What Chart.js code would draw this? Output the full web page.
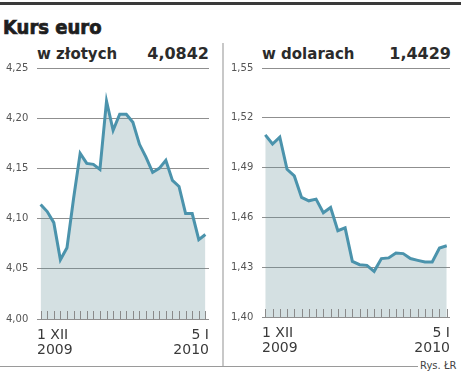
<!DOCTYPE html>
<html><head><meta charset="utf-8">
<script src="https://cdn.jsdelivr.net/npm/chart.js@4"></script>
<style>
html,body{margin:0;padding:0;background:#fff;}
body{width:461px;height:373px;position:relative;overflow:hidden;font-family:"DejaVu Sans",sans-serif;}
.abs{position:absolute;white-space:nowrap;}
.sub{font-weight:bold;font-size:15px;line-height:15px;color:#2b2b2b;}
.val{font-weight:bold;font-size:16px;line-height:16px;color:#2b2b2b;}
</style></head><body>
<div class="abs" style="left:0;top:2px;width:461px;height:3px;background:#3a3a3a"></div>
<div class="abs" style="left:3px;top:17px;font-family:'DejaVu Sans Condensed','DejaVu Sans';font-stretch:condensed;font-weight:bold;font-size:20px;line-height:20px;color:#1e1e1e;-webkit-text-stroke:0.7px #1e1e1e">Kurs euro</div>
<div class="abs sub" style="left:37px;top:47px">w złotych</div>
<div class="abs val" style="right:252px;top:46px">4,0842</div>
<div class="abs sub" style="left:262px;top:47px">w dolarach</div>
<div class="abs val" style="right:10px;top:46px">1,4429</div>
<div class="abs" style="left:222px;top:43px;width:2px;height:324px;background:#c8c8c8"></div>
<div class="abs" style="left:0;top:366px;width:418px;height:1px;background:#9a9a9a"></div>
<div class="abs" style="left:420px;top:361px;font-size:10px;line-height:10px;color:#444">Rys. ŁR</div>
<div class="abs" style="left:0;top:0;width:222px;height:377px"><canvas id="c1" width="222" height="377"></canvas></div>
<div class="abs" style="left:226px;top:0;width:235px;height:377px"><canvas id="c2" width="235" height="377"></canvas></div>
<script>
// Trading days 1 XII 2009 – 5 I 2010
const categories = ['1 XII','2 XII','3 XII','4 XII','7 XII','8 XII','9 XII','10 XII','11 XII','14 XII','15 XII','16 XII','17 XII','18 XII','21 XII','22 XII','23 XII','24 XII','25 XII','28 XII','29 XII','30 XII','31 XII','1 I','4 I','5 I'];
const eurPln = [4.114,4.107,4.096,4.059,4.071,4.120,4.165,4.155,4.154,4.149,4.217,4.188,4.204,4.204,4.196,4.174,4.161,4.146,4.150,4.158,4.138,4.132,4.105,4.105,4.079,4.0842];
const eurUsd = [1.5097,1.5042,1.5083,1.489,1.485,1.472,1.470,1.471,1.4628,1.466,1.452,1.4537,1.4335,1.4315,1.4311,1.4275,1.4352,1.4356,1.4386,1.4382,1.4352,1.4341,1.4331,1.4331,1.4416,1.4429];
const yTicksPln = [4.00,4.05,4.10,4.15,4.20,4.25];
const yTicksUsd = [1.40,1.43,1.46,1.49,1.52,1.55];
const xTickLabels = [['1 XII','2009'],['5 I','2010']];

const dayTicks = {
  id: 'dayTicks',
  afterDatasetsDraw(chart) {
    const xs = chart.scales.x, ys = chart.scales.y, ctx = chart.ctx;
    const base = Math.round(ys.getPixelForValue(ys.min));
    ctx.save();
    ctx.strokeStyle = '#8a8a8a';
    ctx.lineWidth = 1;
    ctx.beginPath();
    chart.data.datasets[0].data.forEach(p => {
      const px = Math.round(xs.getPixelForValue(p.x)) + 0.5;
      ctx.moveTo(px, base);
      ctx.lineTo(px, base - 8);
    });
    ctx.stroke();
    ctx.restore();
  }
};

function makeChart(id, values, yTicks, pad, xMin, xMax) {
  const data = values.map((v, i) => ({x: i, y: v, label: categories[i]}));
  return new Chart(document.getElementById(id), {
    type: 'line',
    data: { datasets: [{
      data,
      borderColor: '#4b93ac',
      borderWidth: 3,
      backgroundColor: 'rgba(100,145,150,0.28)',
      fill: 'start',
      pointRadius: 0,
      tension: 0
    }]},
    plugins: [dayTicks],
    options: {
      responsive: false,
      animation: false,
      devicePixelRatio: 1,
      layout: { padding: pad },
      plugins: { legend: {display: false}, tooltip: {enabled: false} },
      scales: {
        x: {
          type: 'linear', min: xMin, max: xMax,
          grid: { display: false, drawTicks: false },
          border: { display: false },
          afterBuildTicks(s) { s.ticks = [{value: s.min}, {value: s.max}]; },
          ticks: {
            autoSkip: false, maxRotation: 0, align: 'inner', padding: 9,
            color: '#3a3a3a',
            font: { family: 'DejaVu Sans', size: 14, lineHeight: '15px' },
            callback: (v, i) => xTickLabels[i]
          }
        },
        y: {
          min: yTicks[0], max: yTicks[yTicks.length - 1],
          afterBuildTicks(s) { s.ticks = yTicks.map(v => ({value: v})); },
          afterFit(s) { s.width = 31; },
          grid: { color: '#8f8f8f', lineWidth: 1, drawTicks: false },
          border: { display: false },
          ticks: {
            crossAlign: 'far', padding: 0,
            color: '#555',
            font: { family: 'DejaVu Sans', size: 10 },
            callback: v => v.toFixed(2).replace('.', ',')
          }
        }
      }
    }
  });
}

makeChart('c1', eurPln, yTicksPln, {left: 6, right: 13, top: 68, bottom: 10}, -0.55, 25.55);
makeChart('c2', eurUsd, yTicksUsd, {left: 5, right: 11, top: 68, bottom: 12}, -0.45, 25.45);
</script>
</body></html>
